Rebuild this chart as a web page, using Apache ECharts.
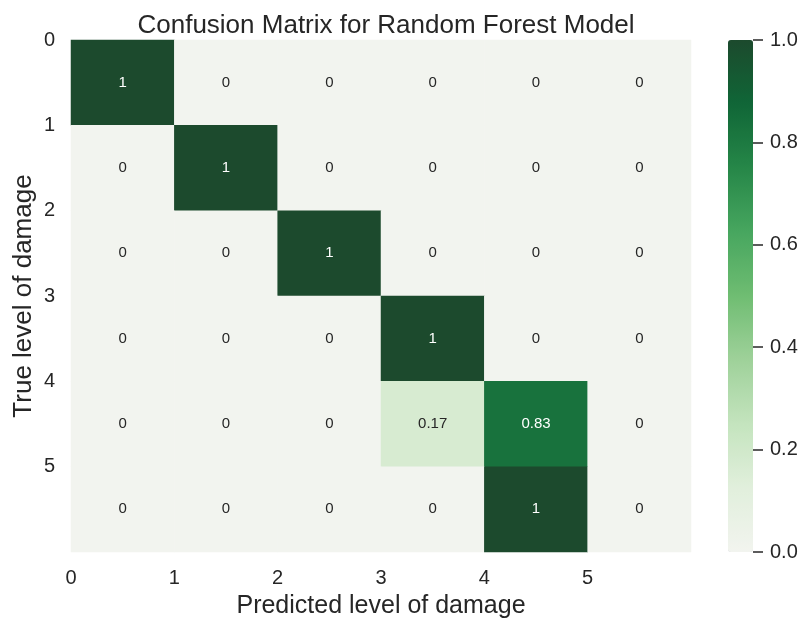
<!DOCTYPE html>
<html><head><meta charset="utf-8">
<script src="https://cdn.jsdelivr.net/npm/echarts@6/dist/echarts.min.js"></script>
<style>html,body{margin:0;padding:0;background:#fff}#c{width:805px;height:619px}</style>
</head><body><div id="c"></div>
<script>
var predictedLabels = ['0','1','2','3','4','5'];
var trueLabels = ['0','1','2','3','4','5'];
var tickLabels = ['0','1','2','3','4','5'];
var colorbarTicks = [0, 0.2, 0.4, 0.6, 0.8, 1.0];
var row0 = [1, 0, 0, 0, 0, 0];
var row1 = [0, 1, 0, 0, 0, 0];
var row2 = [0, 0, 1, 0, 0, 0];
var row3 = [0, 0, 0, 1, 0, 0];
var row4 = [0, 0, 0, 0.17, 0.83, 0];
var row5 = [0, 0, 0, 0, 1, 0];
var rows = [row0, row1, row2, row3, row4, row5];

var font = 'Liberation Sans, Arial, sans-serif';
var txt = '#262626';
var data = [];
rows.forEach(function (r, i) {
  r.forEach(function (v, j) {
    data.push({ value: [j, i, v], label: { color: v > 0.5 ? '#ffffff' : txt } });
  });
});

var chart = echarts.init(document.getElementById('c'));
chart.setOption({
  backgroundColor: '#fff',
  animation: false,
  textStyle: { fontFamily: font },
  title: { text: 'Confusion Matrix for Random Forest Model', left: 381, top: 8, textAlign: 'center',
    textStyle: { fontFamily: font, fontSize: 26, fontWeight: 'normal', color: txt } },
  grid: [
    { left: 71, top: 40, width: 620, height: 512, outerBoundsMode: 'none', containLabel: false },
    { left: 753, top: 40, width: 10, height: 512, outerBoundsMode: 'none', containLabel: false }
  ],
  xAxis: [
    { type: 'category', data: predictedLabels, gridIndex: 0, axisLine: { show: false }, axisTick: { show: false }, axisLabel: { show: false }, splitLine: { show: false } },
    { type: 'value', gridIndex: 0, min: 0, max: 6, interval: 1, position: 'bottom',
      name: 'Predicted level of damage', nameLocation: 'middle', nameGap: 42,
      nameTextStyle: { fontFamily: font, fontSize: 25, color: txt },
      axisLine: { show: false }, axisTick: { show: false }, splitLine: { show: false },
      axisLabel: { fontFamily: font, fontSize: 20, color: txt, margin: 16,
        formatter: function (v) { return tickLabels[v] !== undefined ? tickLabels[v] : ''; } } },
    { type: 'value', gridIndex: 1, min: 0, max: 1, show: false }
  ],
  yAxis: [
    { type: 'category', data: trueLabels, gridIndex: 0, inverse: true, axisLine: { show: false }, axisTick: { show: false }, axisLabel: { show: false }, splitLine: { show: false } },
    { type: 'value', gridIndex: 0, min: 0, max: 6, interval: 1, inverse: true, position: 'left',
      name: 'True level of damage', nameLocation: 'middle', nameGap: 34, nameRotate: 90, nameMoveOverlap: false,
      nameTextStyle: { fontFamily: font, fontSize: 26, color: txt },
      axisLine: { show: false }, axisTick: { show: false }, splitLine: { show: false },
      axisLabel: { fontFamily: font, fontSize: 20, color: txt, margin: 16,
        formatter: function (v) { return tickLabels[v] !== undefined ? tickLabels[v] : ''; } } },
    { type: 'value', gridIndex: 1, min: colorbarTicks[0], max: colorbarTicks[colorbarTicks.length - 1], interval: 0.2, position: 'right',
      axisLine: { show: false }, axisTick: { show: false },
      splitLine: { show: true, lineStyle: { color: txt, width: 1.5 } },
      axisLabel: { fontFamily: font, fontSize: 20, color: txt, margin: 7, formatter: function (v) { return v.toFixed(1); } } }
  ],
  visualMap: {
    type: 'continuous', min: 0, max: 1, seriesIndex: 0, orient: 'vertical',
    left: 728, top: 40, itemWidth: 25, itemHeight: 512, padding: 0,
    calculable: false, hoverLink: false, text: ['', ''], showLabel: false, textGap: 0,
    inRange: { color: ['#f2f4ef', '#e1efdc', '#c4e4be', '#9fd19a', '#6fbd72', '#47a65f', '#268748', '#106637', '#1c4a2d'] }
  },
  series: [
    { type: 'heatmap', xAxisIndex: 0, yAxisIndex: 0, data: data,
      label: { show: true, fontFamily: font, fontSize: 15,
        formatter: function (p) { return String(p.value[2]); } },
      itemStyle: { borderWidth: 0 },
      emphasis: { disabled: true }
    },
    { type: 'scatter', xAxisIndex: 2, yAxisIndex: 2, data: [], silent: true }
  ]
});
</script>
</body></html>
